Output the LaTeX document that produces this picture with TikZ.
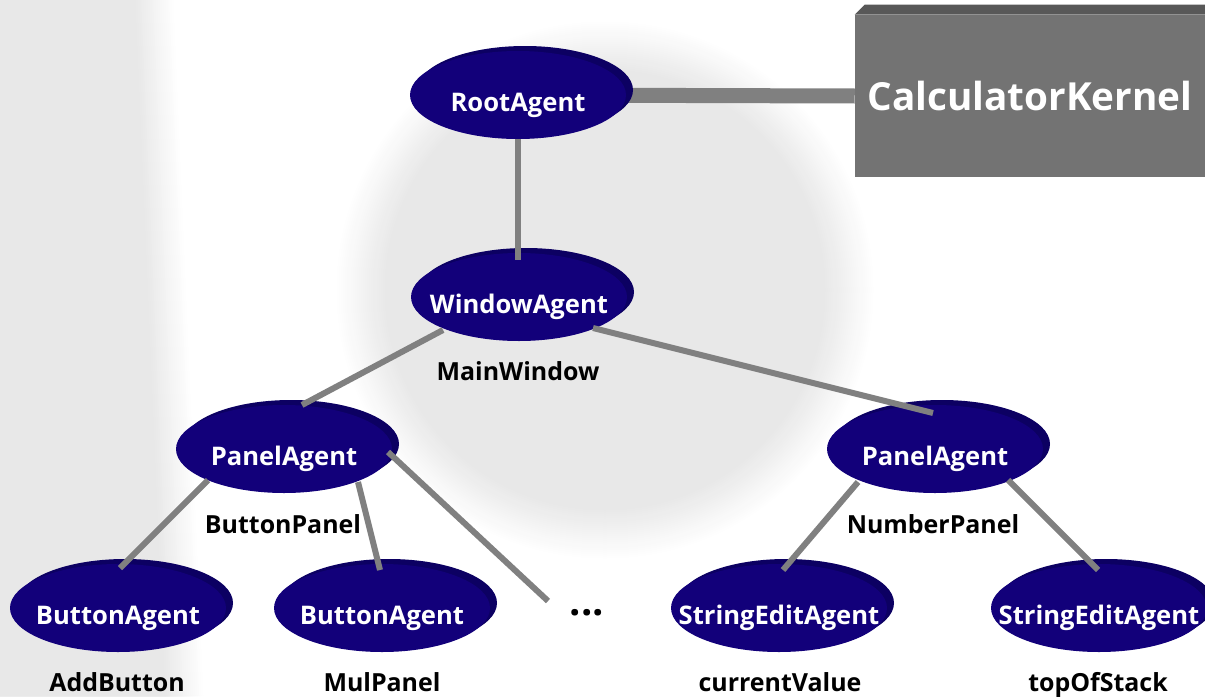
\documentclass[tikz,border=0pt]{standalone}
\usepackage{fontspec}
\setmainfont{Open Sans}
\usetikzlibrary{shapes.geometric,shadows,calc,backgrounds}

\definecolor{agentfill}{RGB}{18,0,122}
\definecolor{agentrim}{RGB}{12,0,98}
\definecolor{connector}{RGB}{128,128,128}
\definecolor{bggray}{RGB}{232,232,232}
\definecolor{kernelface}{RGB}{115,115,115}
\definecolor{kerneltop}{RGB}{88,88,88}

\begin{document}
\begin{tikzpicture}[x=0.75pt,y=-0.75pt,
  agent/.style={ellipse, fill=agentfill, minimum width=162pt, minimum height=66pt,
    inner sep=0pt,
    general shadow={fill=agentrim, shadow xshift=5.25pt, shadow yshift=3.75pt}},
  agenttext/.style={text=white, font=\bfseries\fontsize{19.2}{19.2}\selectfont,
    inner sep=0pt, anchor=base, yshift=-7.5pt},
  role/.style={text=black, font=\bfseries\fontsize{18.7}{18.7}\selectfont,
    inner sep=0pt, anchor=base},
  conn/.style={draw=connector, line width=4.5pt},
  kernelbox/.style={fill=kernelface, minimum width=262.5pt, minimum height=121.5pt,
    inner sep=0pt, text=white, font=\bfseries\fontsize{29}{29}\selectfont}
]
\useasboundingbox (0,0) rectangle (1205,696);

% agents
\node[agent, label={[agenttext]center:RootAgent}] (root) at (518,95) {};
\node[agent, label={[agenttext]center:WindowAgent}] (win) at (519,297) {};
\node[agent, label={[agenttext]center:PanelAgent}] (pl) at (284,449) {};
\node[agent, label={[agenttext]center:PanelAgent}] (pr) at (935,449) {};
\node[agent, label={[agenttext]center:ButtonAgent}] (b1) at (118,608) {};
\node[agent, label={[agenttext]center:ButtonAgent}] (b2) at (382,608) {};
\node[agent, label={[agenttext]center:StringEditAgent}] (s1) at (779,608) {};
\node[agent, label={[agenttext]center:StringEditAgent}] (s2) at (1099,608) {};

% instance names
\node[role] (mainwindow) at (518,380) {MainWindow};
\node[role] (buttonpanel) at (283,533) {ButtonPanel};
\node[role] (numberpanel) at (933,533) {NumberPanel};
\node[role] (addbutton) at (117,691) {AddButton};
\node[role] (mulpanel) at (382,691) {MulPanel};
\node[role] (currentvalue) at (780,691) {currentValue};
\node[role] (topofstack) at (1098,691) {topOfStack};

\node[font=\bfseries\fontsize{30}{30}\selectfont, inner sep=0pt, anchor=base] (dots) at (587,615) {...};
\coordinate (dotsend) at (548,601);

% kernel block
\node[kernelbox] (kernel) at (1030,96) {CalculatorKernel};
\fill[kerneltop] (kernel.north west) -- ++(10,-10) -- ($(kernel.north east)+(0,-10)$)
  -- (kernel.north east) -- cycle;

% tree connectors
\draw[conn] ($(root)+(0,44)$) -- ($(win)+(-1,-37)$);
\draw[conn] ($(win)+(-76,33)$) -- ($(pl)+(18,-44)$);
\draw[conn] ($(win)+(74,31)$) -- ($(pr)+(-2,-36)$);
\draw[conn] ($(pl)+(-76,31)$) -- ($(b1)+(2,-40)$);
\draw[conn] ($(pl)+(74,33)$) -- ($(b2)+(-2,-38)$);
\draw[conn] ($(pl)+(104,3)$) -- (dotsend);
\draw[conn] ($(pr)+(-77,33)$) -- ($(s1)+(4,-38)$);
\draw[conn] ($(pr)+(73,31)$) -- ($(s2)+(-1,-38)$);

\begin{scope}[on background layer]
  \fill[white] (0,0) rectangle (1205,696);
  % grey strip on the left, fading out to the right
  \foreach \i in {0,...,20} {
    \pgfmathtruncatemacro\p{5*\i}
    \pgfmathsetmacro\xr{175-2*\i}
    \fill[bggray!\p!white] (-10,0) -- (\xr,0) -- (\xr+30,696) -- (-10,696) -- cycle;
  }
  % grey disc behind the tree, soft rim
  \foreach \i in {0,...,25} {
    \pgfmathtruncatemacro\p{4*\i}
    \pgfmathsetmacro\r{270-2*\i}
    \fill[bggray!\p!white] (605,290) circle (\r);
  }
  \draw[connector, line width=11.25pt] (root.center) -- (kernel.west);
\end{scope}
\end{tikzpicture}
\end{document}
